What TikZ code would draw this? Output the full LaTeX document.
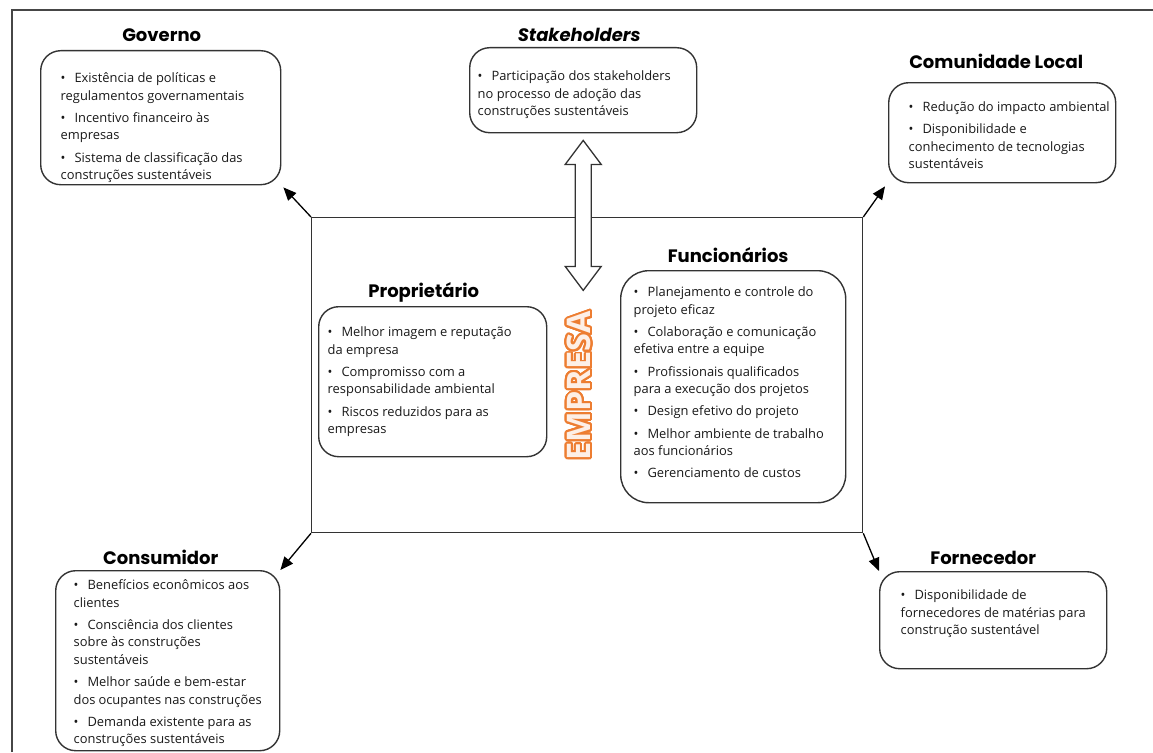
\documentclass[tikz,border=0pt]{standalone}
\usepackage{fontspec}
\setmainfont{Open Sans}
\newfontfamily\headfont{Poppins}
\usepackage[copies]{contour}
\usetikzlibrary{arrows.meta,positioning,calc}
\definecolor{linegray}{RGB}{51,51,51}
\definecolor{framegray}{RGB}{70,70,70}
\definecolor{txtgray}{RGB}{25,25,25}
\definecolor{empresaorange}{RGB}{237,125,49}
\newcommand{\bodyfont}{\fontsize{12.9}{17.5}\selectfont}
\newcommand{\itm}{\strut\textbullet\hspace{9pt}}
\newcommand{\cardtext}[4]{\parbox[t][#2][t]{#1}{\raggedright\setlength{\parskip}{4.75pt}\vspace*{#3}#4}}
\contourlength{1.9pt}
\contournumber{32}

\begin{document}
\begin{tikzpicture}[
  x=1pt, y=-1pt,
  card/.style={
    draw=linegray,
    line width=1.4pt,
    rounded corners=20pt,
    anchor=north west,
    inner ysep=0pt,
    inner xsep=#1,
    font=\bodyfont,
    text=txtgray
    },
  card/.default=20pt,
  title/.style={
    font=\headfont\bfseries\fontsize{18}{20}\selectfont,
    inner sep=0pt
    },
  linkarrow/.style={
    draw=black,
    line width=1.3pt,
    -{Triangle[length=13pt,width=11pt]}
    },
  hollow/.style={
    draw=linegray,
    line width=1.3pt,
    fill=white
    }
]
\useasboundingbox (0,0) rectangle (1153,752);
\draw[framegray, line width=1.2pt] (12,752) -- (12,10) -- (1153,10);

\node[draw=linegray, line width=1.3pt, minimum width=551pt, minimum height=315pt,
  anchor=north west, inner sep=0pt] (emp) at (311,217) {};

\node[card] (gov) at (40,50) {\cardtext{200pt}{134pt}{15pt}{%
  \itm Existência de políticas e\\ regulamentos governamentais\par
  \itm Incentivo financeiro às\\ empresas\par
  \itm Sistema de classificação das\\ construções sustentáveis}};
\node[card=8pt] (stake) at (469,47) {\cardtext{211pt}{85pt}{16pt}{%
  \itm Participação dos stakeholders\\ no processo de adoção das\\ construções sustentáveis}};
\node[card] (com) at (888,82) {\cardtext{187pt}{100pt}{12pt}{%
  \mbox{\itm Redução do impacto ambiental}\par
  \itm Disponibilidade e\\ conhecimento de tecnologias\\ sustentáveis}};
\node[card=9pt] (prop) at (318,306) {\cardtext{210pt}{150pt}{13pt}{%
  \itm Melhor imagem e reputação\\ da empresa\par
  \itm Compromisso com a\\ responsabilidade ambiental\par
  \itm Riscos reduzidos para as\\ empresas}};
\node[card=13pt, rounded corners=28pt] (func) at (620,270) {\cardtext{199pt}{232pt}{9pt}{%
  \itm Planejamento e controle do\\ projeto eficaz\par
  \itm Colaboração e comunicação\\ efetiva entre a equipe\par
  \itm Profissionais qualificados\\ para a execução dos projetos\par
  \itm Design efetivo do projeto\par
  \itm Melhor ambiente de trabalho\\ aos funcionários\par
  \itm Gerenciamento de custos}};
\node[card=18pt] (cons) at (55,570) {\cardtext{188pt}{180pt}{2pt}{%
  \itm Benefícios econômicos aos\\ clientes\par
  \itm Consciência dos clientes\\ sobre às construções\\ sustentáveis\par
  \itm Melhor saúde e bem-estar\\ dos ocupantes nas construções\par
  \itm Demanda existente para as\\ construções sustentáveis}};
\node[card=21pt] (forn) at (879,571) {\cardtext{185pt}{97pt}{11pt}{%
  \itm Disponibilidade de\\ fornecedores de matérias para\\ construção sustentável}};

\node[title, above=8pt of gov, xshift=1pt] (govt) {Governo};
\node[title, above=5pt of stake, xshift=-4pt] (staket) {\itshape Stakeholders};
\node[title, above=13pt of com, xshift=-6pt] (comt) {Comunidade Local};
\node[title, above=4pt of prop, xshift=-9pt] (propt) {Proprietário};
\node[title, above=7pt of func, xshift=-5pt] (funct) {Funcionários};
\node[title, above=5pt of cons, xshift=-7pt] (const) {Consumidor};
\node[title, above=6pt of forn, xshift=-10pt] (fornt) {Fornecedor};

\coordinate (dtop) at ([yshift=-7pt]stake.south);
\draw[hollow] (dtop) -- ++(18,24) -- ++(-10,0) -- ++(0,102) -- ++(10,0)
  -- ++(-18,24) -- ++(-18,-24) -- ++(10,0) -- ++(0,-102) -- ++(-10,0) -- cycle;

\node[rotate=90, font=\bfseries\fontsize{32.5}{33}\selectfont] (brand) at (580,386)
  {\contour{empresaorange}{\textcolor{empresaorange!12}{EMPRESA}}};

\draw[linkarrow] (emp.north west) -- ([shift={(2,2)}]gov.south east);
\draw[linkarrow] (emp.north east) -- ([shift={(-3,3)}]com.south west);
\draw[linkarrow] (emp.south west) -- (cons.north east);
\draw[linkarrow] (emp.south east) -- (forn.north west);
\end{tikzpicture}
\end{document}
